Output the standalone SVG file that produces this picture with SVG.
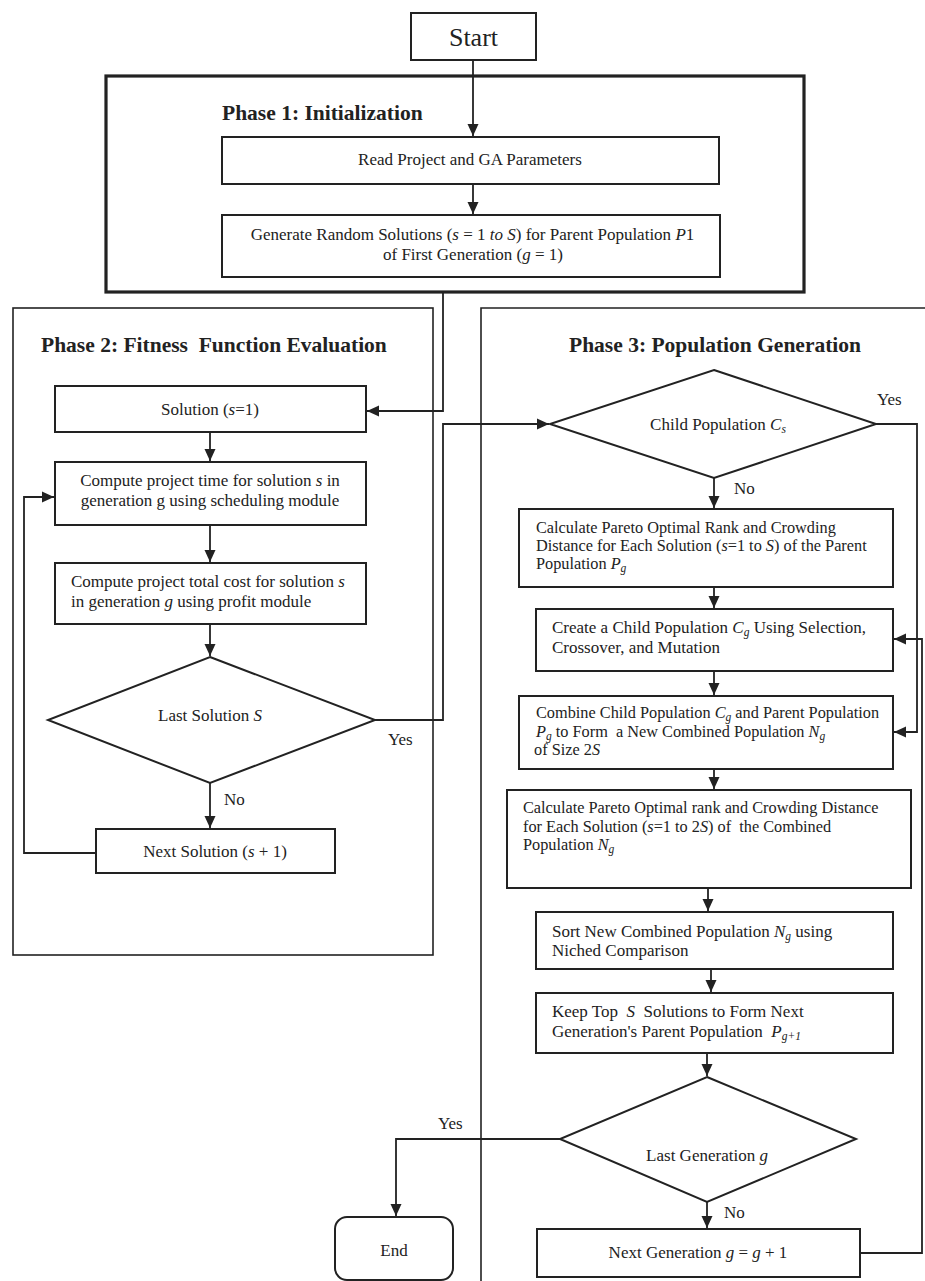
<svg xmlns="http://www.w3.org/2000/svg" width="925" height="1281" viewBox="0 0 925 1281">
<style>
text{font-family:"Liberation Serif","Times New Roman",serif;fill:#222;font-size:17px;white-space:pre}
.t{font-size:21.5px;font-weight:bold}
.m{text-anchor:middle}
.i{font-style:italic}
.sb{font-size:11.5px;font-style:italic}
.s16{font-size:16.3px}
.b{fill:#fff;stroke:#222;stroke-width:2}
.ph{fill:none;stroke:#222;stroke-width:1.6}
.ph1{fill:none;stroke:#222;stroke-width:3.2}
.c{fill:none;stroke:#222;stroke-width:1.8}
</style>
<defs>
<marker id="ah" markerWidth="12" markerHeight="12" refX="12" refY="6" orient="auto" markerUnits="userSpaceOnUse"><path d="M0,0.5 L12,6 L0,11.5 z" fill="#222"/></marker>
</defs>
<rect width="925" height="1281" fill="#fff"/>
<g id="phase1">
<rect class="ph1" x="106" y="76" width="698" height="216"/>
<text class="t" x="222" y="120">Phase 1: Initialization</text>
</g>
<g id="phase2">
<rect class="ph" x="13" y="308" width="420" height="647"/>
<text class="t" x="41" y="352" xml:space="preserve">Phase 2: Fitness  Function Evaluation</text>
</g>
<g id="phase3">
<path class="ph" d="M481,1281 V308 H925"/>
<text class="t" x="569" y="352">Phase 3: Population Generation</text>
</g>
<g id="connectors">
<path class="c" d="M473,60 V136" marker-end="url(#ah)"/>
<path class="c" d="M473,184 V214" marker-end="url(#ah)"/>
<path class="c" d="M443,292 V411 H367" marker-end="url(#ah)"/>
<path class="c" d="M210,432 V461" marker-end="url(#ah)"/>
<path class="c" d="M210,525 V562" marker-end="url(#ah)"/>
<path class="c" d="M210,624 V656" marker-end="url(#ah)"/>
<path class="c" d="M210,783 V828" marker-end="url(#ah)"/>
<path class="c" d="M96,853 H24 V497 H54" marker-end="url(#ah)"/>
<path class="c" d="M375,720 H443 V424 H549" marker-end="url(#ah)"/>
<path class="c" d="M876,424 H917 V732 H894" marker-end="url(#ah)"/>
<path class="c" d="M714,478 V508" marker-end="url(#ah)"/>
<path class="c" d="M714,587 V608" marker-end="url(#ah)"/>
<path class="c" d="M714,671 V695" marker-end="url(#ah)"/>
<path class="c" d="M714,769 V789" marker-end="url(#ah)"/>
<path class="c" d="M708,888 V911" marker-end="url(#ah)"/>
<path class="c" d="M711,969 V992" marker-end="url(#ah)"/>
<path class="c" d="M707,1053 V1076" marker-end="url(#ah)"/>
<path class="c" d="M707,1202 V1228" marker-end="url(#ah)"/>
<path class="c" d="M560,1139 H396 V1216" marker-end="url(#ah)"/>
<path class="c" d="M860,1253 H922 V639 H894" marker-end="url(#ah)"/>
</g>
<g id="labels">
<text x="388" y="745">Yes</text>
<text x="224" y="805">No</text>
<text x="877" y="405">Yes</text>
<text x="734" y="494">No</text>
<text x="438" y="1129">Yes</text>
<text x="724" y="1218">No</text>
</g>
<g id="start">
<rect class="b" x="411" y="13" width="125" height="47"/>
<text class="m" x="473.5" y="46" style="font-size:26px">Start</text>
</g>
<g id="read">
<rect class="b" x="222" y="137" width="497" height="47"/>
<text class="m" x="470" y="165">Read Project and GA Parameters</text>
</g>
<g id="generate">
<rect class="b" x="222" y="215" width="498" height="62"/>
<text class="m" x="472.5" y="240">Generate Random Solutions (<tspan class="i">s</tspan> = 1 <tspan class="i">to S</tspan>) for Parent Population <tspan class="i">P</tspan>1</text>
<text class="m" x="473" y="260">of First Generation (<tspan class="i">g</tspan> = 1)</text>
</g>
<g id="solution">
<rect class="b" x="55" y="386" width="311" height="46"/>
<text class="m" x="210" y="415">Solution (<tspan class="i">s</tspan>=1)</text>
</g>
<g id="compute-time">
<rect class="b" x="55" y="462" width="311" height="63"/>
<text class="m" x="210" y="486">Compute project time for solution <tspan class="i">s</tspan> in</text>
<text class="m" x="210" y="506">generation g using scheduling module</text>
</g>
<g id="compute-cost">
<rect class="b" x="55" y="563" width="311" height="61"/>
<text x="71" y="587">Compute project total cost for solution <tspan class="i">s</tspan></text>
<text x="71" y="607">in generation <tspan class="i">g</tspan> using profit module</text>
</g>
<g id="last-solution">
<polygon class="b" points="210,657 375,720 210,783 48,720"/>
<text class="m" x="210" y="721">Last Solution <tspan class="i">S</tspan></text>
</g>
<g id="next-solution">
<rect class="b" x="96" y="829" width="239" height="44"/>
<text class="m" x="215" y="857">Next Solution (<tspan class="i">s</tspan> + 1)</text>
</g>
<g id="child-population">
<polygon class="b" points="714,370 876,424 714,478 550,424"/>
<text class="m" x="718" y="430">Child Population <tspan class="i">C</tspan><tspan class="sb" dy="3">s</tspan></text>
</g>
<g id="calc-parent">
<rect class="b" x="519" y="509" width="374" height="78"/>
<text class="s16" x="536" y="533">Calculate Pareto Optimal Rank and Crowding</text>
<text class="s16" x="536" y="551">Distance for Each Solution (<tspan class="i">s</tspan>=1 to <tspan class="i">S</tspan>) of the Parent</text>
<text class="s16" x="536" y="569">Population <tspan class="i">P</tspan><tspan class="sb" dy="3">g</tspan></text>
</g>
<g id="create-child">
<rect class="b" x="536" y="609" width="357" height="62"/>
<text x="552" y="633">Create a Child Population <tspan class="i">C</tspan><tspan class="sb" dy="3">g</tspan><tspan dy="-3"> Using Selection,</tspan></text>
<text x="552" y="653">Crossover, and Mutation</text>
</g>
<g id="combine">
<rect class="b" x="519" y="696" width="374" height="73"/>
<text class="s16" x="536" y="718">Combine Child Population <tspan class="i">C</tspan><tspan class="sb" dy="3">g</tspan><tspan dy="-3"> and Parent Population</tspan></text>
<text class="s16" x="536" y="737" xml:space="preserve"><tspan class="i">P</tspan><tspan class="sb" dy="3">g</tspan><tspan dy="-3"> to Form  a New Combined Population </tspan><tspan class="i">N</tspan><tspan class="sb" dy="3">g</tspan></text>
<text class="s16" x="534" y="755">of Size 2<tspan class="i">S</tspan></text>
</g>
<g id="calc-combined">
<rect class="b" x="507" y="790" width="404" height="98"/>
<text class="s16" x="523" y="813">Calculate Pareto Optimal rank and Crowding Distance</text>
<text class="s16" x="523" y="832" xml:space="preserve">for Each Solution (<tspan class="i">s</tspan>=1 to 2<tspan class="i">S</tspan>) of  the Combined</text>
<text class="s16" x="523" y="850">Population <tspan class="i">N</tspan><tspan class="sb" dy="3">g</tspan></text>
</g>
<g id="sort">
<rect class="b" x="536" y="912" width="357" height="57"/>
<text x="552" y="937">Sort New Combined Population <tspan class="i">N</tspan><tspan class="sb" dy="3">g</tspan><tspan dy="-3"> using</tspan></text>
<text x="552" y="956">Niched Comparison</text>
</g>
<g id="keep">
<rect class="b" x="536" y="993" width="357" height="60"/>
<text x="552" y="1017" xml:space="preserve">Keep Top  <tspan class="i">S</tspan>  Solutions to Form Next</text>
<text x="552" y="1037" xml:space="preserve">Generation's Parent Population  <tspan class="i">P</tspan><tspan class="sb" dy="3">g+1</tspan></text>
</g>
<g id="last-generation">
<polygon class="b" points="707,1077 856,1139 707,1202 560,1139"/>
<text class="m" x="707" y="1161">Last Generation <tspan class="i">g</tspan></text>
</g>
<g id="next-generation">
<rect class="b" x="537" y="1229" width="323" height="48"/>
<text class="m" x="698" y="1258">Next Generation <tspan class="i">g</tspan> = <tspan class="i">g</tspan> + 1</text>
</g>
<g id="end">
<rect class="b" x="335" y="1217" width="118" height="63" rx="12"/>
<text class="m" x="394" y="1256">End</text>
</g>
</svg>
